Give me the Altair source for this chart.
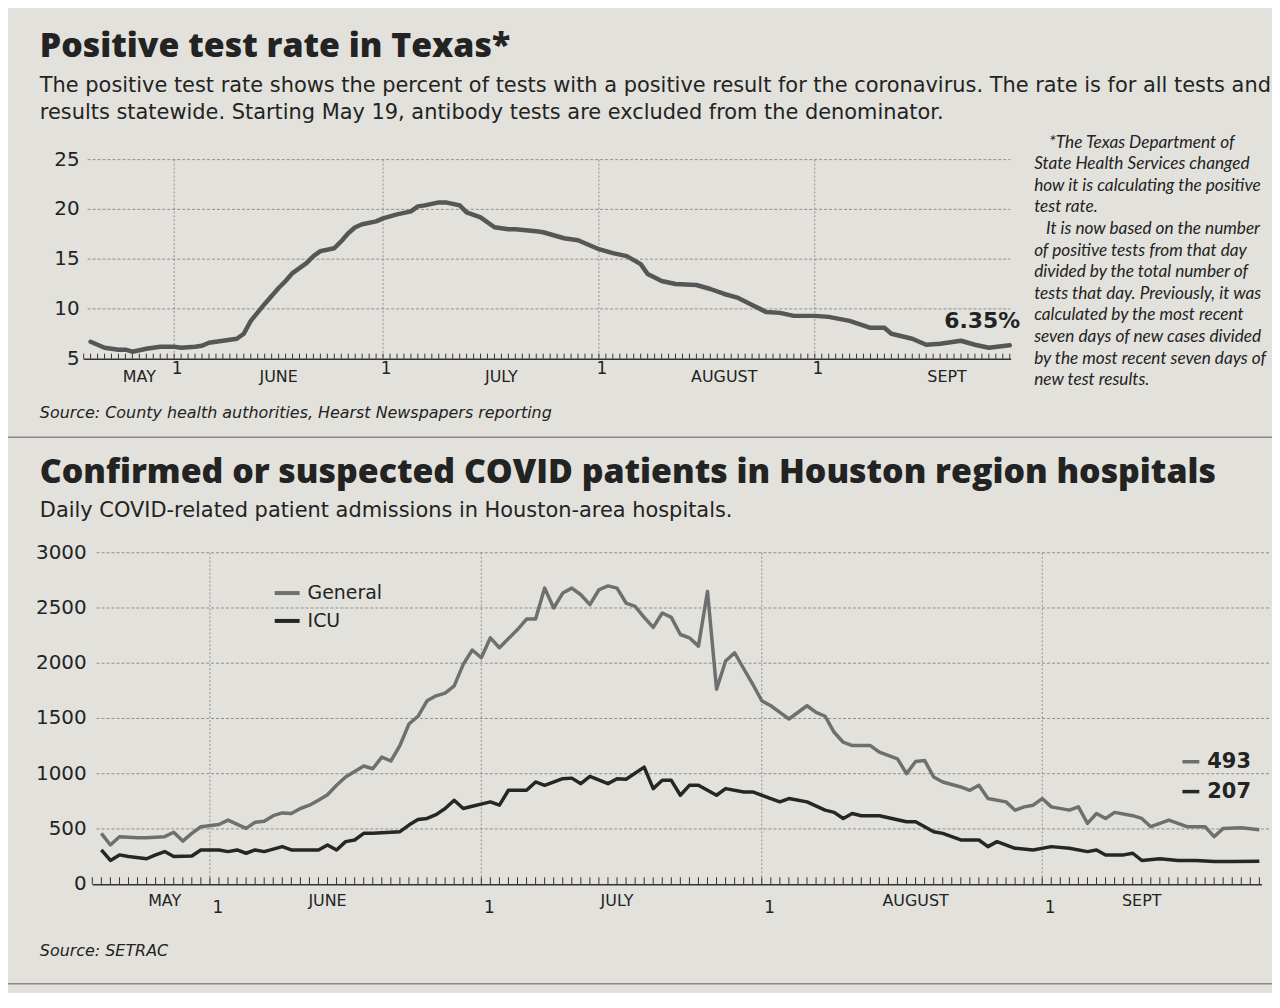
import altair as alt
import pandas as pd

# ------------------------------------------------------------------ data
# Positive test rate in Texas (%)
rate_dates = [
    "2020-05-20", "2020-05-22", "2020-05-24", "2020-05-25", "2020-05-26", "2020-05-28", "2020-05-30",
    "2020-06-01", "2020-06-02", "2020-06-04", "2020-06-05", "2020-06-06", "2020-06-08", "2020-06-10",
    "2020-06-11", "2020-06-12", "2020-06-14", "2020-06-15", "2020-06-16", "2020-06-17", "2020-06-18",
    "2020-06-20", "2020-06-21", "2020-06-22", "2020-06-24", "2020-06-25", "2020-06-26", "2020-06-27",
    "2020-06-28", "2020-06-30", "2020-07-01", "2020-07-03", "2020-07-05", "2020-07-06", "2020-07-07",
    "2020-07-09", "2020-07-10", "2020-07-12", "2020-07-13", "2020-07-15", "2020-07-17", "2020-07-19",
    "2020-07-20", "2020-07-23", "2020-07-24", "2020-07-27", "2020-07-29", "2020-07-31", "2020-08-01",
    "2020-08-03", "2020-08-05", "2020-08-07", "2020-08-08", "2020-08-10", "2020-08-12", "2020-08-15",
    "2020-08-17", "2020-08-19", "2020-08-21", "2020-08-23", "2020-08-25", "2020-08-27", "2020-08-29",
    "2020-09-01", "2020-09-03", "2020-09-06", "2020-09-09", "2020-09-11", "2020-09-12", "2020-09-15",
    "2020-09-17", "2020-09-19", "2020-09-22", "2020-09-24", "2020-09-26", "2020-09-29",
]
rate_values = [
    6.7, 6.1, 5.9, 5.9, 5.7, 6.0, 6.2,
    6.2, 6.1, 6.2, 6.3, 6.6, 6.8, 7.0,
    7.5, 8.8, 10.5, 11.3, 12.1, 12.8, 13.6,
    14.6, 15.3, 15.8, 16.1, 16.8, 17.6, 18.2,
    18.5, 18.8, 19.1, 19.5, 19.8, 20.3, 20.4,
    20.7, 20.7, 20.4, 19.7, 19.2, 18.2, 18.0,
    18.0, 17.8, 17.7, 17.1, 16.9, 16.3, 16.0,
    15.6, 15.3, 14.5, 13.5, 12.8, 12.5, 12.4,
    12.0, 11.5, 11.1, 10.4, 9.7, 9.6, 9.3,
    9.3, 9.2, 8.8, 8.1, 8.1, 7.5, 7.0,
    6.4, 6.5, 6.8, 6.4, 6.1, 6.35,
]

# Houston region hospitals: General
gen_dates = [
    "2020-05-20", "2020-05-21", "2020-05-22", "2020-05-24", "2020-05-25", "2020-05-27", "2020-05-28",
    "2020-05-29", "2020-05-30", "2020-05-31", "2020-06-02", "2020-06-03", "2020-06-05", "2020-06-06",
    "2020-06-07", "2020-06-08", "2020-06-09", "2020-06-10", "2020-06-11", "2020-06-12", "2020-06-13",
    "2020-06-14", "2020-06-15", "2020-06-16", "2020-06-18", "2020-06-19", "2020-06-20", "2020-06-21",
    "2020-06-22", "2020-06-23", "2020-06-24", "2020-06-25", "2020-06-26", "2020-06-27", "2020-06-28",
    "2020-06-29", "2020-06-30", "2020-07-01", "2020-07-02", "2020-07-03", "2020-07-05", "2020-07-06",
    "2020-07-07", "2020-07-08", "2020-07-09", "2020-07-10", "2020-07-11", "2020-07-12", "2020-07-13",
    "2020-07-14", "2020-07-15", "2020-07-16", "2020-07-17", "2020-07-18", "2020-07-19", "2020-07-20",
    "2020-07-21", "2020-07-22", "2020-07-23", "2020-07-24", "2020-07-25", "2020-07-26", "2020-07-27",
    "2020-07-28", "2020-07-29", "2020-07-30", "2020-07-31", "2020-08-01", "2020-08-02", "2020-08-03",
    "2020-08-04", "2020-08-06", "2020-08-07", "2020-08-08", "2020-08-09", "2020-08-10", "2020-08-11",
    "2020-08-13", "2020-08-14", "2020-08-16", "2020-08-17", "2020-08-18", "2020-08-19", "2020-08-20",
    "2020-08-21", "2020-08-23", "2020-08-24", "2020-08-25", "2020-08-26", "2020-08-28", "2020-08-29",
    "2020-08-30", "2020-08-31", "2020-09-01", "2020-09-02", "2020-09-04", "2020-09-05", "2020-09-06",
    "2020-09-07", "2020-09-08", "2020-09-09", "2020-09-11", "2020-09-12", "2020-09-13", "2020-09-15",
    "2020-09-16", "2020-09-17", "2020-09-19", "2020-09-20", "2020-09-21", "2020-09-23", "2020-09-25",
]
gen_values = [
    460, 355, 430, 420, 420, 430, 470,
    390, 460, 520, 540, 580, 505, 560,
    570, 620, 645, 640, 685, 715, 760,
    810, 895, 970, 1070, 1045, 1150, 1115,
    1255, 1450, 1520, 1660, 1705, 1730, 1795,
    1990, 2120, 2050, 2230, 2140, 2305, 2400,
    2400, 2680, 2500, 2635, 2680, 2620, 2530,
    2665, 2700, 2680, 2545, 2515, 2415, 2325,
    2455, 2415, 2260, 2230, 2155, 2650, 1765,
    2020, 2095, 1950, 1810, 1660, 1615, 1555,
    1495, 1615, 1555, 1520, 1375, 1285, 1255,
    1255, 1195, 1135, 1000, 1110, 1120, 970,
    925, 880, 850, 895, 775, 745, 670,
    700, 715, 775, 700, 670, 700, 550,
    640, 595, 650, 620, 595, 520, 580,
    550, 520, 520, 430, 505, 510, 493,
]

# Houston region hospitals: ICU
icu_dates = [
    "2020-05-20", "2020-05-21", "2020-05-22", "2020-05-23", "2020-05-25", "2020-05-26", "2020-05-27",
    "2020-05-28", "2020-05-30", "2020-05-31", "2020-06-02", "2020-06-03", "2020-06-04", "2020-06-05",
    "2020-06-06", "2020-06-07", "2020-06-09", "2020-06-10", "2020-06-12", "2020-06-13", "2020-06-14",
    "2020-06-15", "2020-06-16", "2020-06-17", "2020-06-18", "2020-06-19", "2020-06-21", "2020-06-22",
    "2020-06-23", "2020-06-24", "2020-06-25", "2020-06-26", "2020-06-27", "2020-06-28", "2020-06-29",
    "2020-06-30", "2020-07-02", "2020-07-03", "2020-07-04", "2020-07-06", "2020-07-07", "2020-07-08",
    "2020-07-10", "2020-07-11", "2020-07-12", "2020-07-13", "2020-07-15", "2020-07-16", "2020-07-17",
    "2020-07-19", "2020-07-20", "2020-07-21", "2020-07-22", "2020-07-23", "2020-07-24", "2020-07-25",
    "2020-07-27", "2020-07-28", "2020-07-30", "2020-07-31", "2020-08-02", "2020-08-03", "2020-08-04",
    "2020-08-06", "2020-08-08", "2020-08-09", "2020-08-10", "2020-08-11", "2020-08-12", "2020-08-14",
    "2020-08-17", "2020-08-18", "2020-08-20", "2020-08-21", "2020-08-23", "2020-08-25", "2020-08-26",
    "2020-08-27", "2020-08-29", "2020-08-31", "2020-09-02", "2020-09-04", "2020-09-06", "2020-09-07",
    "2020-09-08", "2020-09-10", "2020-09-11", "2020-09-12", "2020-09-14", "2020-09-16", "2020-09-18",
    "2020-09-20", "2020-09-22", "2020-09-25",
]
icu_values = [
    310, 215, 265, 250, 230, 265, 295,
    250, 255, 310, 310, 295, 310, 280,
    310, 295, 340, 310, 310, 310, 355,
    310, 385, 400, 460, 460, 470, 475,
    535, 585, 595, 630, 685, 760, 685,
    705, 745, 715, 850, 850, 925, 895,
    955, 960, 910, 975, 910, 955, 950,
    1060, 865, 940, 940, 805, 895, 895,
    805, 865, 835, 835, 775, 745, 775,
    745, 670, 650, 595, 640, 620, 620,
    565, 565, 475, 460, 400, 400, 340,
    385, 325, 310, 340, 325, 295, 310,
    265, 265, 280, 215, 230, 215, 215,
    205, 205, 207,
]

series_names = ["General", "ICU"]
series_colors = ["#6f6f6f", "#262626"]

month_names = ["MAY", "JUNE", "JULY", "AUGUST", "SEPT"]
top_month_label_dates = ["2020-05-27", "2020-06-16", "2020-07-18", "2020-08-19", "2020-09-20"]
bot_month_label_dates = ["2020-05-27", "2020-06-14", "2020-07-16", "2020-08-18", "2020-09-12"]
month_starts = ["2020-06-01", "2020-07-01", "2020-08-01", "2020-09-01"]
rate_ticks = [5, 10, 15, 20, 25]
hosp_ticks = [0, 500, 1000, 1500, 2000, 2500, 3000]

# ------------------------------------------------------------------ styling / geometry
BG = "#e2e1dc"
INK = "#232323"
GRID = "#8f8f8f"
TFONT = "Open Sans"
FONT = "DejaVu Sans"
FOOT_FONT = "Lato"

W, H = 1270, 985

TOP_X = alt.Scale(domain=[alt.DateTime(year=2020, month=5, date=19, utc=True),
                          alt.DateTime(year=2020, month=9, date=29, utc=True)],
                  range=[76, 1006.5], nice=False)
TOP_Y = alt.Scale(domain=[5, 25], range=[350, 150], nice=False, zero=False)
BOT_X = alt.Scale(domain=[alt.DateTime(year=2020, month=5, date=19, utc=True),
                          alt.DateTime(year=2020, month=9, date=25, utc=True)],
                  range=[84.7, 1257.3], nice=False)
BOT_Y = alt.Scale(domain=[0, 3000], range=[878, 545], nice=False, zero=False)


def xenc(scale, field="d"):
    return alt.X(f"{field}:T", scale=scale, axis=None)


def yenc(scale, field="v"):
    return alt.Y(f"{field}:Q", scale=scale, axis=None)


def note(text, x, y, size=20, weight="normal", style="normal", font=FONT, align="left",
         color=INK, line_height=None):
    kw = dict(text=text, align=align, baseline="middle", fontSize=size, fontWeight=weight,
              fontStyle=style, font=font, color=color)
    if line_height:
        kw["lineHeight"] = line_height
    return alt.Chart(pd.DataFrame({"k": [0]})).mark_text(**kw).encode(
        x=alt.value(x), y=alt.value(y))


def hline(x1, x2, y, color="#8a8a8a", width=1.5):
    return alt.Chart(pd.DataFrame({"k": [0]})).mark_rule(color=color, strokeWidth=width).encode(
        x=alt.value(x1), x2=alt.value(x2), y=alt.value(y))


top_days = pd.DataFrame({"d": pd.date_range("2020-05-19", "2020-09-29").strftime("%Y-%m-%d")})
bot_days = pd.DataFrame({"d": pd.date_range("2020-05-19", "2020-09-25").strftime("%Y-%m-%d")})
starts_df = pd.DataFrame({"d": month_starts, "t": ["1"] * len(month_starts)})

layers = []

# ------------------------------------------------------------------ top chart
layers.append(
    alt.Chart(pd.DataFrame({"v": rate_ticks[1:]})).mark_rule(
        color=GRID, strokeWidth=1, strokeDash=[3, 2]).encode(
        y=yenc(TOP_Y), x=alt.value(80), x2=alt.value(1007)))
layers.append(
    alt.Chart(starts_df).mark_rule(color=GRID, strokeWidth=1, strokeDash=[2, 2]).encode(
        x=xenc(TOP_X), y=alt.value(150), y2=alt.value(350)))
layers.append(
    alt.Chart(top_days).mark_rule(color="#333333", strokeWidth=1).encode(
        x=xenc(TOP_X), y=alt.value(345), y2=alt.value(350)))
layers.append(hline(76, 1008, 350.5, color="#333333", width=1.5))
layers.append(
    alt.Chart(pd.DataFrame({"v": rate_ticks})).mark_text(
        align="right", baseline="middle", fontSize=20, font=FONT, color=INK).encode(
        y=yenc(TOP_Y), x=alt.value(72), text="v:Q"))
layers.append(
    alt.Chart(pd.DataFrame({"d": rate_dates, "v": rate_values})).mark_line(
        color="#565656", strokeWidth=4.5, strokeJoin="round", strokeCap="round").encode(
        x=xenc(TOP_X), y=yenc(TOP_Y)))
layers.append(
    alt.Chart(starts_df).mark_text(align="center", baseline="middle", fontSize=17, font=FONT,
                                   color=INK, dx=3).encode(
        x=xenc(TOP_X), y=alt.value(360), text="t:N"))
layers.append(
    alt.Chart(pd.DataFrame({"d": top_month_label_dates, "t": month_names})).mark_text(
        align="center", baseline="middle", fontSize=16, font=FONT, color=INK).encode(
        x=xenc(TOP_X), y=alt.value(368), text="t:N"))
layers.append(note("6.35%", 1017, 312, size=22, weight="bold", align="right"))

layers.append(note("Positive test rate in Texas*", 32, 37, size=34, weight=800, font=TFONT))
layers.append(note([
    "The positive test rate shows the percent of tests with a positive result for the coronavirus. The rate is for all tests and",
    "results statewide. Starting May 19, antibody tests are excluded from the denominator.",
], 32, 76, size=21, line_height=27))

# footnote (right of the top chart)
FN_X, FN_Y, FN_LH, FN_SIZE = 1031, 133, 21.7, 17.3
layers.append(note("*The Texas Department of", FN_X + 15, FN_Y, size=FN_SIZE, style="italic",
                   font=FOOT_FONT))
layers.append(note([
    "State Health Services changed",
    "how it is calculating the positive",
    "test rate.",
], FN_X, FN_Y + FN_LH, size=FN_SIZE, style="italic", font=FOOT_FONT, line_height=FN_LH))
layers.append(note("It is now based on the number", FN_X + 12, FN_Y + 4 * FN_LH, size=FN_SIZE,
                   style="italic", font=FOOT_FONT))
layers.append(note([
    "of positive tests from that day",
    "divided by the total number of",
    "tests that day. Previously, it was",
    "calculated by the most recent",
    "seven days of new cases divided",
    "by the most recent seven days of",
    "new test results.",
], FN_X, FN_Y + 5 * FN_LH, size=FN_SIZE, style="italic", font=FOOT_FONT, line_height=FN_LH))

layers.append(note("Source: County health authorities,  Hearst Newspapers reporting", 32, 405,
                   size=16, style="italic"))
layers.append(hline(0, W, 429, color="#8a8a8a", width=1.5))

# ------------------------------------------------------------------ bottom chart
layers.append(note("Confirmed or suspected COVID patients in Houston region hospitals", 32, 465,
                   size=34, weight=800, font=TFONT))
layers.append(note("Daily COVID-related patient admissions in Houston-area hospitals.", 32, 503, size=21))

layers.append(
    alt.Chart(pd.DataFrame({"v": hosp_ticks[1:]})).mark_rule(
        color=GRID, strokeWidth=1, strokeDash=[3, 2]).encode(
        y=yenc(BOT_Y), x=alt.value(89), x2=alt.value(1267)))
layers.append(
    alt.Chart(starts_df).mark_rule(color=GRID, strokeWidth=1, strokeDash=[2, 2]).encode(
        x=xenc(BOT_X), y=alt.value(545), y2=alt.value(878)))
layers.append(
    alt.Chart(bot_days).mark_rule(color="#333333", strokeWidth=1).encode(
        x=xenc(BOT_X), y=alt.value(871), y2=alt.value(878)))
layers.append(hline(85, 1260, 878.5, color="#333333", width=1.5))
layers.append(
    alt.Chart(pd.DataFrame({"v": hosp_ticks})).mark_text(
        align="right", baseline="middle", fontSize=20, font=FONT, color=INK).encode(
        y=yenc(BOT_Y), x=alt.value(79), text="v:Q"))

hosp = pd.concat([
    pd.DataFrame({"d": gen_dates, "v": gen_values, "s": series_names[0]}),
    pd.DataFrame({"d": icu_dates, "v": icu_values, "s": series_names[1]}),
])
layers.append(
    alt.Chart(hosp).mark_line(strokeWidth=3.5, strokeJoin="round").encode(
        x=xenc(BOT_X), y=yenc(BOT_Y),
        color=alt.Color("s:N", scale=alt.Scale(domain=series_names, range=series_colors),
                        legend=alt.Legend(orient="none", legendX=266, legendY=571, title=None,
                                          symbolType="stroke", symbolStrokeWidth=4,
                                          symbolSize=625, labelFontSize=19, labelFont=FONT,
                                          labelColor=INK, rowPadding=3, labelOffset=6,
                                          padding=0)),
        detail="s:N"))
layers.append(
    alt.Chart(starts_df).mark_text(align="center", baseline="middle", fontSize=17, font=FONT,
                                   color=INK, dx=8).encode(
        x=xenc(BOT_X), y=alt.value(902), text="t:N"))
layers.append(
    alt.Chart(pd.DataFrame({"d": bot_month_label_dates, "t": month_names})).mark_text(
        align="center", baseline="middle", fontSize=16, font=FONT, color=INK).encode(
        x=xenc(BOT_X), y=alt.value(895), text="t:N"))

layers.append(hline(1180, 1197, 755, color=series_colors[0], width=3.5))
layers.append(hline(1180, 1197, 785, color=series_colors[1], width=3.5))
layers.append(note("493", 1205, 755, size=21, weight="bold"))
layers.append(note("207", 1205, 785, size=21, weight="bold"))
layers.append(note("Source: SETRAC", 32, 945, size=16, style="italic"))
layers.append(hline(0, W, 978, color="#8a8a8a", width=1.5))

chart = alt.layer(*layers).resolve_scale(
    x="independent", y="independent"
).properties(
    width=W, height=H, background=BG, padding=0,
    autosize=alt.AutoSizeParams(type="none"),
).configure_view(stroke=None)

chart.save("out.html", embed_options={"renderer": "svg", "actions": False})
